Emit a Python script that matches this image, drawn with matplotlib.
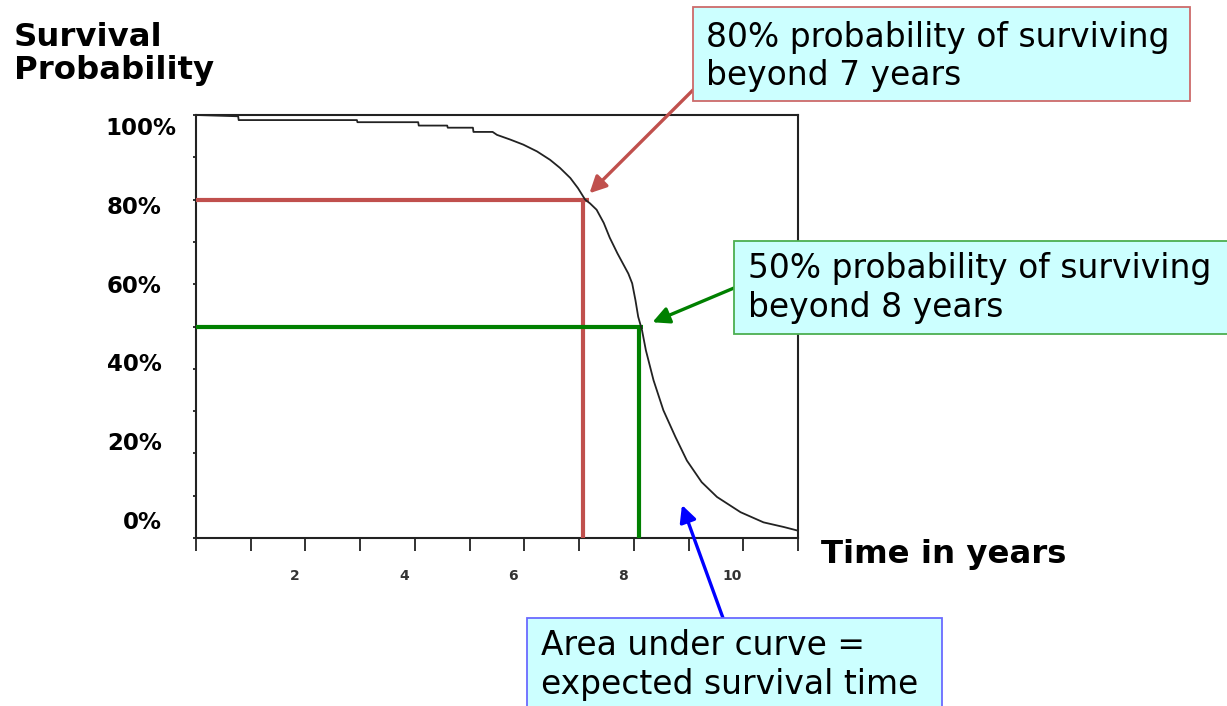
import matplotlib
matplotlib.use("Agg")
import matplotlib.pyplot as plt
import matplotlib.transforms as mtransforms
from matplotlib.patches import Rectangle

# ---------------- data ----------------
years = [0.0, 0.77, 0.78, 2.94, 2.95, 4.06, 4.07, 4.59, 4.60, 5.06, 5.07, 5.42,
         5.50, 5.74, 5.98, 6.23, 6.47, 6.65, 6.84, 6.98, 7.11, 7.20, 7.32, 7.45,
         7.56, 7.70, 7.90, 7.97, 8.03, 8.08, 8.15, 8.22, 8.36, 8.54, 8.76, 8.97,
         9.24, 9.52, 9.95, 10.37, 10.74, 10.98]
survival = [100.0, 99.7, 98.8, 98.8, 98.3, 98.3, 97.5, 97.5, 97.0, 97.0, 96.0, 96.0,
            95.3, 94.2, 93.0, 91.4, 89.4, 87.5, 85.1, 82.7, 80.0, 79.1, 77.6, 74.5,
            71.0, 67.3, 62.5, 60.2, 56.2, 52.3, 49.1, 44.4, 37.3, 30.2, 23.9, 18.3,
            13.2, 9.7, 6.1, 3.7, 2.6, 1.8]

ytick_values = [0, 20, 40, 60, 80, 100]
ytick_labels = ["0%", "20%", "40%", "60%", "80%", "100%"]
xtick_values = [2, 4, 6, 8, 10]
xtick_labels = ["2", "4", "6", "8", "10"]

p80_time, p80_level, p80_end = 7.08, 80, 7.19
p50_time, p50_level, p50_end = 8.10, 50, 8.16

note80 = "80% probability of surviving\nbeyond 7 years"
note50 = "50% probability of surviving\nbeyond 8 years"
note_area = "Area under curve =\nexpected survival time"

# ---------------- figure ----------------
W, H = 1227, 706
fig = plt.figure(figsize=(W / 100, H / 100), dpi=100)
fig.patch.set_facecolor("white")
plt.rcParams['font.family'] = ['DejaVu Sans']


def fx(x):
    return x / W


def fy(y):
    return 1 - y / H


ax = fig.add_axes([fx(196), fy(538), fx(798) - fx(196), fy(115) - fy(538)])
ax.set_xlim(0, 11)
ax.set_ylim(0, 100)
for s in ax.spines.values():
    s.set_linewidth(1.5)
    s.set_color("#222222")

# ticks
ax.set_xticks(range(0, 12))
ax.set_xticklabels([])
ax.tick_params(axis="x", direction="out", length=9, width=1.3, color="#222222")
ax.set_yticks(range(0, 101, 10))
ax.set_yticklabels([])
ax.tick_params(axis="y", direction="out", length=2.5, width=1.3, color="#222222")

# curve
ax.plot(years, survival, color="#222222", lw=1.3, zorder=4, solid_joinstyle="round")

# reference lines
red = "#C0504D"
green = "#008000"
ax.plot([0, p80_end], [p80_level, p80_level], color=red, lw=3, solid_capstyle="butt", zorder=3)
ax.plot([p80_time, p80_time], [0, p80_level], color=red, lw=3, solid_capstyle="butt", zorder=3)
ax.plot([0, p50_end], [p50_level, p50_level], color=green, lw=3, solid_capstyle="butt", zorder=3)
ax.plot([p50_time, p50_time], [0, p50_level], color=green, lw=3, solid_capstyle="butt", zorder=3)

# y tick labels (placed slightly off their ticks, as in the original)
ytrans = mtransforms.blended_transform_factory(ax.transAxes, ax.transData)
for v, lab in zip(ytick_values, ytick_labels):
    pos = 2.2 + 0.93 * v
    if lab == "100%":
        ax.text((105 - 196) / 602, pos, lab, transform=ytrans, ha="left",
                va="baseline", fontsize=16.5, fontweight="bold", color="black")
    else:
        ax.text((162 - 196) / 602, pos, lab, transform=ytrans, ha="right",
                va="baseline", fontsize=16.5, fontweight="bold", color="black")

# x tick labels
xtrans = mtransforms.blended_transform_factory(ax.transData, ax.transAxes) + \
    mtransforms.ScaledTranslation(-11 / 100, 0, fig.dpi_scale_trans)
for v, lab in zip(xtick_values, xtick_labels):
    ax.text(v, -(580 - 538) / 423, lab, transform=xtrans, ha="center", va="baseline",
            fontsize=10, fontweight="bold", color="#333333")

# axis titles
fig.text(fx(14), fy(46), "Survival", fontsize=23.3, fontweight="bold", ha="left", va="baseline")
fig.text(fx(14), fy(79), "Probability", fontsize=23.3, fontweight="bold", ha="left", va="baseline")
fig.text(fx(821), fy(563), "Time in years", fontsize=23.3, fontweight="bold", ha="left", va="baseline")

# annotation boxes
fill = "#CCFFFF"


def box(x0, y0, x1, y1, ec):
    r = Rectangle((fx(x0), fy(y1)), fx(x1) - fx(x0), fy(y0) - fy(y1), transform=fig.transFigure,
                  facecolor=fill, edgecolor=ec, lw=1.3, zorder=10, clip_on=False)
    fig.add_artist(r)


box(693, 7, 1190, 101, "#CD6A6A")
box(734, 241, 1240, 334, "#4CAF50")
box(527, 618, 942, 720, "#6A6AFF")

fs = 23.7
fig.text(fx(706), fy(46.5), note80.split("\n")[0], fontsize=fs, ha="left", va="baseline", zorder=11)
fig.text(fx(706), fy(85), note80.split("\n")[1], fontsize=fs, ha="left", va="baseline", zorder=11)
fig.text(fx(748), fy(278), note50.split("\n")[0], fontsize=fs, ha="left", va="baseline", zorder=11)
fig.text(fx(748), fy(317), note50.split("\n")[1], fontsize=fs, ha="left", va="baseline", zorder=11)
fig.text(fx(541), fy(655), note_area.split("\n")[0], fontsize=fs, ha="left", va="baseline", zorder=11)
fig.text(fx(541), fy(694), note_area.split("\n")[1], fontsize=fs, ha="left", va="baseline", zorder=11)

# arrows
arrow_kw = dict(arrowstyle="-|>,head_length=1.0,head_width=0.5", lw=2.4, shrinkA=0, shrinkB=0)
ax.annotate("", xy=(7.19, 81.5), xycoords="data", xytext=(fx(693), fy(90)),
            textcoords="figure fraction", arrowprops=dict(color=red, **arrow_kw),
            annotation_clip=False, zorder=9)
ax.annotate("", xy=(8.34, 51.0), xycoords="data", xytext=(fx(734), fy(288)),
            textcoords="figure fraction", arrowprops=dict(color=green, **arrow_kw),
            annotation_clip=False, zorder=9)
ax.annotate("", xy=(8.88, 7.8), xycoords="data", xytext=(fx(723), fy(618)),
            textcoords="figure fraction", arrowprops=dict(color="#0000FF", **arrow_kw),
            annotation_clip=False, zorder=9)

fig.savefig("out.png", dpi=100)
